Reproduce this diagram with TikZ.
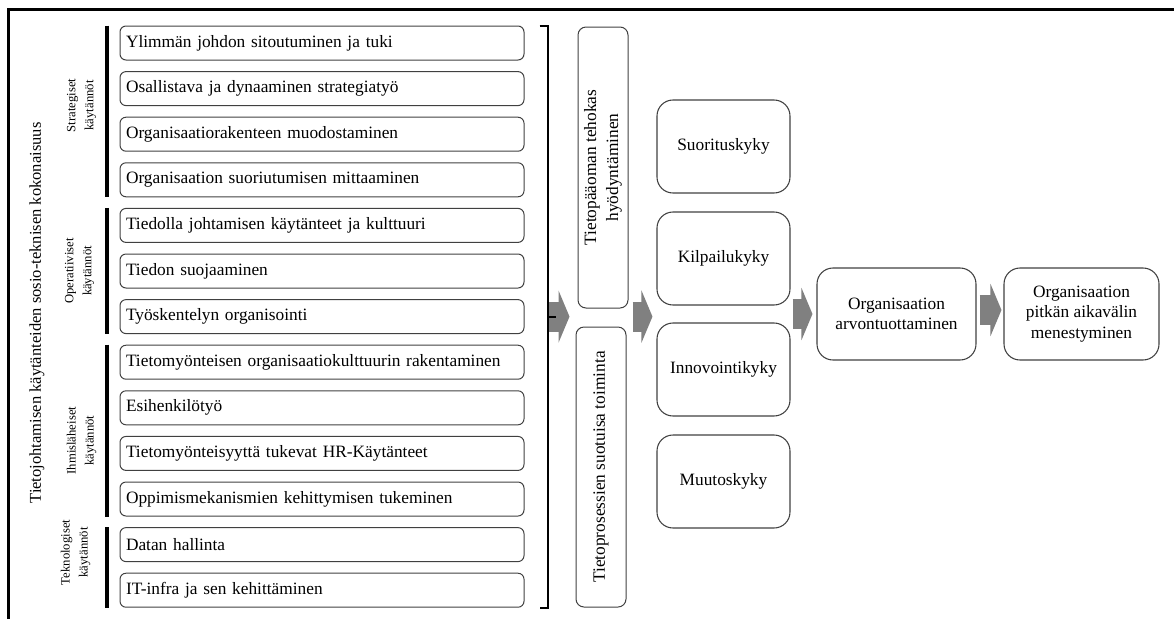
\documentclass[tikz,border=0pt]{standalone}
\usepackage{fontspec}
\setmainfont{Liberation Serif}
\newfontfamily\boxfont{Liberation Serif}[WordSpace=1.45]
\usetikzlibrary{arrows.meta,calc}
\definecolor{boxline}{HTML}{404040}
\definecolor{arrowgrey}{HTML}{808080}
\begin{document}
\begin{tikzpicture}[x=0.75pt,y=-0.75pt,
  practice/.style={draw=boxline, line width=0.75pt, rounded corners=4.5pt,
    minimum width=303pt, minimum height=25.5pt, inner xsep=4.5pt,
    text width=294pt, align=left, font=\boxfont\fontsize{13}{15}\selectfont},
  groupbar/.style={line width=3pt},
  grouplabel/.style={rotate=90, align=center, font=\fontsize{9.5}{13.5}\selectfont},
  tallbox/.style={draw=boxline, line width=0.75pt, rounded corners=6pt, rotate=90,
    minimum height=37.5pt, align=center, font=\fontsize{13}{16.5}\selectfont},
  capbox/.style={draw=boxline, line width=0.8pt, rounded corners=12pt,
    align=center, font=\fontsize{13}{15.5}\selectfont},
  bracket/.style={line width=1.5pt},
  flow/.style={draw=arrowgrey, line width=22.5pt,
    -{Triangle[length=8.25pt, width=39pt]}},
  frame/.style={line width=2.25pt}
]
\useasboundingbox (0,0) rectangle (1174,619);

% outer frame (top and left edges)
\draw[frame] (1174,9) -- (8,9) -- (8,619);

% rotated overall title
\node[rotate=90, font=\fontsize{12.4}{15}\selectfont] (title) at (37,313)
  {Tietojohtamisen käytänteiden sosio-teknisen kokonaisuus};

% the thirteen practice boxes
\foreach \t [count=\i] in {
  {Ylimmän johdon sitoutuminen ja tuki},
  {Osallistava ja dynaaminen strategiatyö},
  {Organisaatiorakenteen muodostaminen},
  {Organisaation suoriutumisen mittaaminen},
  {Tiedolla johtamisen käytänteet ja kulttuuri},
  {Tiedon suojaaminen},
  {Työskentelyn organisointi},
  {Tietomyönteisen organisaatiokulttuurin rakentaminen},
  {Esihenkilötyö},
  {Tietomyönteisyyttä tukevat HR-Käytänteet},
  {Oppimismekanismien kehittymisen tukeminen},
  {Datan hallinta},
  {IT-infra ja sen kehittäminen}}
  \node[practice] (b\i) at (322,{43+45.6*(\i-1)}) {\t};

% group bars
\draw[groupbar] ($(b1.north west)+(-13,0)$) -- ($(b4.south west)+(-13,0)$);
\draw[groupbar] ($(b5.north west)+(-13,0)$) -- ($(b7.south west)+(-13,0)$);
\draw[groupbar] ($(b8.north west)+(-13,0)$) -- ($(b11.south west)+(-13,0)$);
\draw[groupbar] ($(b12.north west)+(-13,0)$) -- ($(b13.south west)+(-13,0)$);

% group labels
\node[grouplabel] (g1) at ($(b1.north west)!0.5!(b4.south west)+(-38,-6)$) {Strategiset\\käytännöt};
\node[grouplabel] (g2) at ($(b5.north west)!0.5!(b7.south west)+(-40,0)$) {Operatiiviset\\käytännöt};
\node[grouplabel] (g3) at ($(b8.north west)!0.5!(b11.south west)+(-38,10)$) {Ihmisläheiset\\käytännöt};
\node[grouplabel] (g4) at ($(b12.north west)!0.5!(b13.south west)+(-44,-15)$) {Teknologiset\\käytännöt};

% bracket collecting all practices
\coordinate (brtop) at ($(b1.north east)+(15,0)$);
\coordinate (brbot) at ($(b13.south east)+(15,0)$);
\coordinate (brk) at ($(brtop)!0.5!(brbot)+(8,0)$);

% middle tall boxes
\node[tallbox, minimum width=210.75pt] (midA) at (603,167.5)
  {Tietopääoman tehokas\\hyödyntäminen};
\node[tallbox, minimum width=210pt] (midB) at (601,467)
  {Tietoprosessien suotuisa toiminta};

% capability boxes
\node[capbox, minimum width=99.75pt, minimum height=69.75pt] (suo) at (723.5,146.5) {Suorituskyky};
\node[capbox, minimum width=99.75pt, minimum height=69.75pt] (kil) at (723.5,258.5) {Kilpailukyky};
\node[capbox, minimum width=99.75pt, minimum height=69.75pt] (inn) at (723.5,369.5) {Innovointikyky};
\node[capbox, minimum width=99.75pt, minimum height=69.75pt] (muu) at (723.5,481.5) {Muutoskyky};

% outcome boxes
\node[capbox, minimum width=119.25pt, minimum height=69pt] (arvo) at (896.5,314)
  {Organisaation\\arvontuottaminen};
\node[capbox, minimum width=116.25pt, minimum height=69pt] (pitka) at (1081.5,314)
  {Organisaation\\pitkän aikavälin\\menestyminen};

% block arrows
\draw[flow, shorten >=4.5pt] ([xshift=0.75pt]brk) -- (brk -| midB.north);
\draw[flow, shorten <=4.5pt, shorten >=3pt] (brk -| midB.south) -- (brk -| kil.west);
\draw[flow, shorten <=1.5pt, shorten >=3pt] (arvo.west -| kil.east) -- (arvo.west);
\draw[flow, shorten <=2.25pt, shorten >=1.5pt] ([yshift=3pt]arvo.east) -- ([yshift=3pt]pitka.west);

% bracket drawn over the first arrow's tail
\draw[bracket] (brtop) -- ++(8,0) |- (brbot);
\draw[bracket] (brk) -- ++(8,0);
\end{tikzpicture}
\end{document}
